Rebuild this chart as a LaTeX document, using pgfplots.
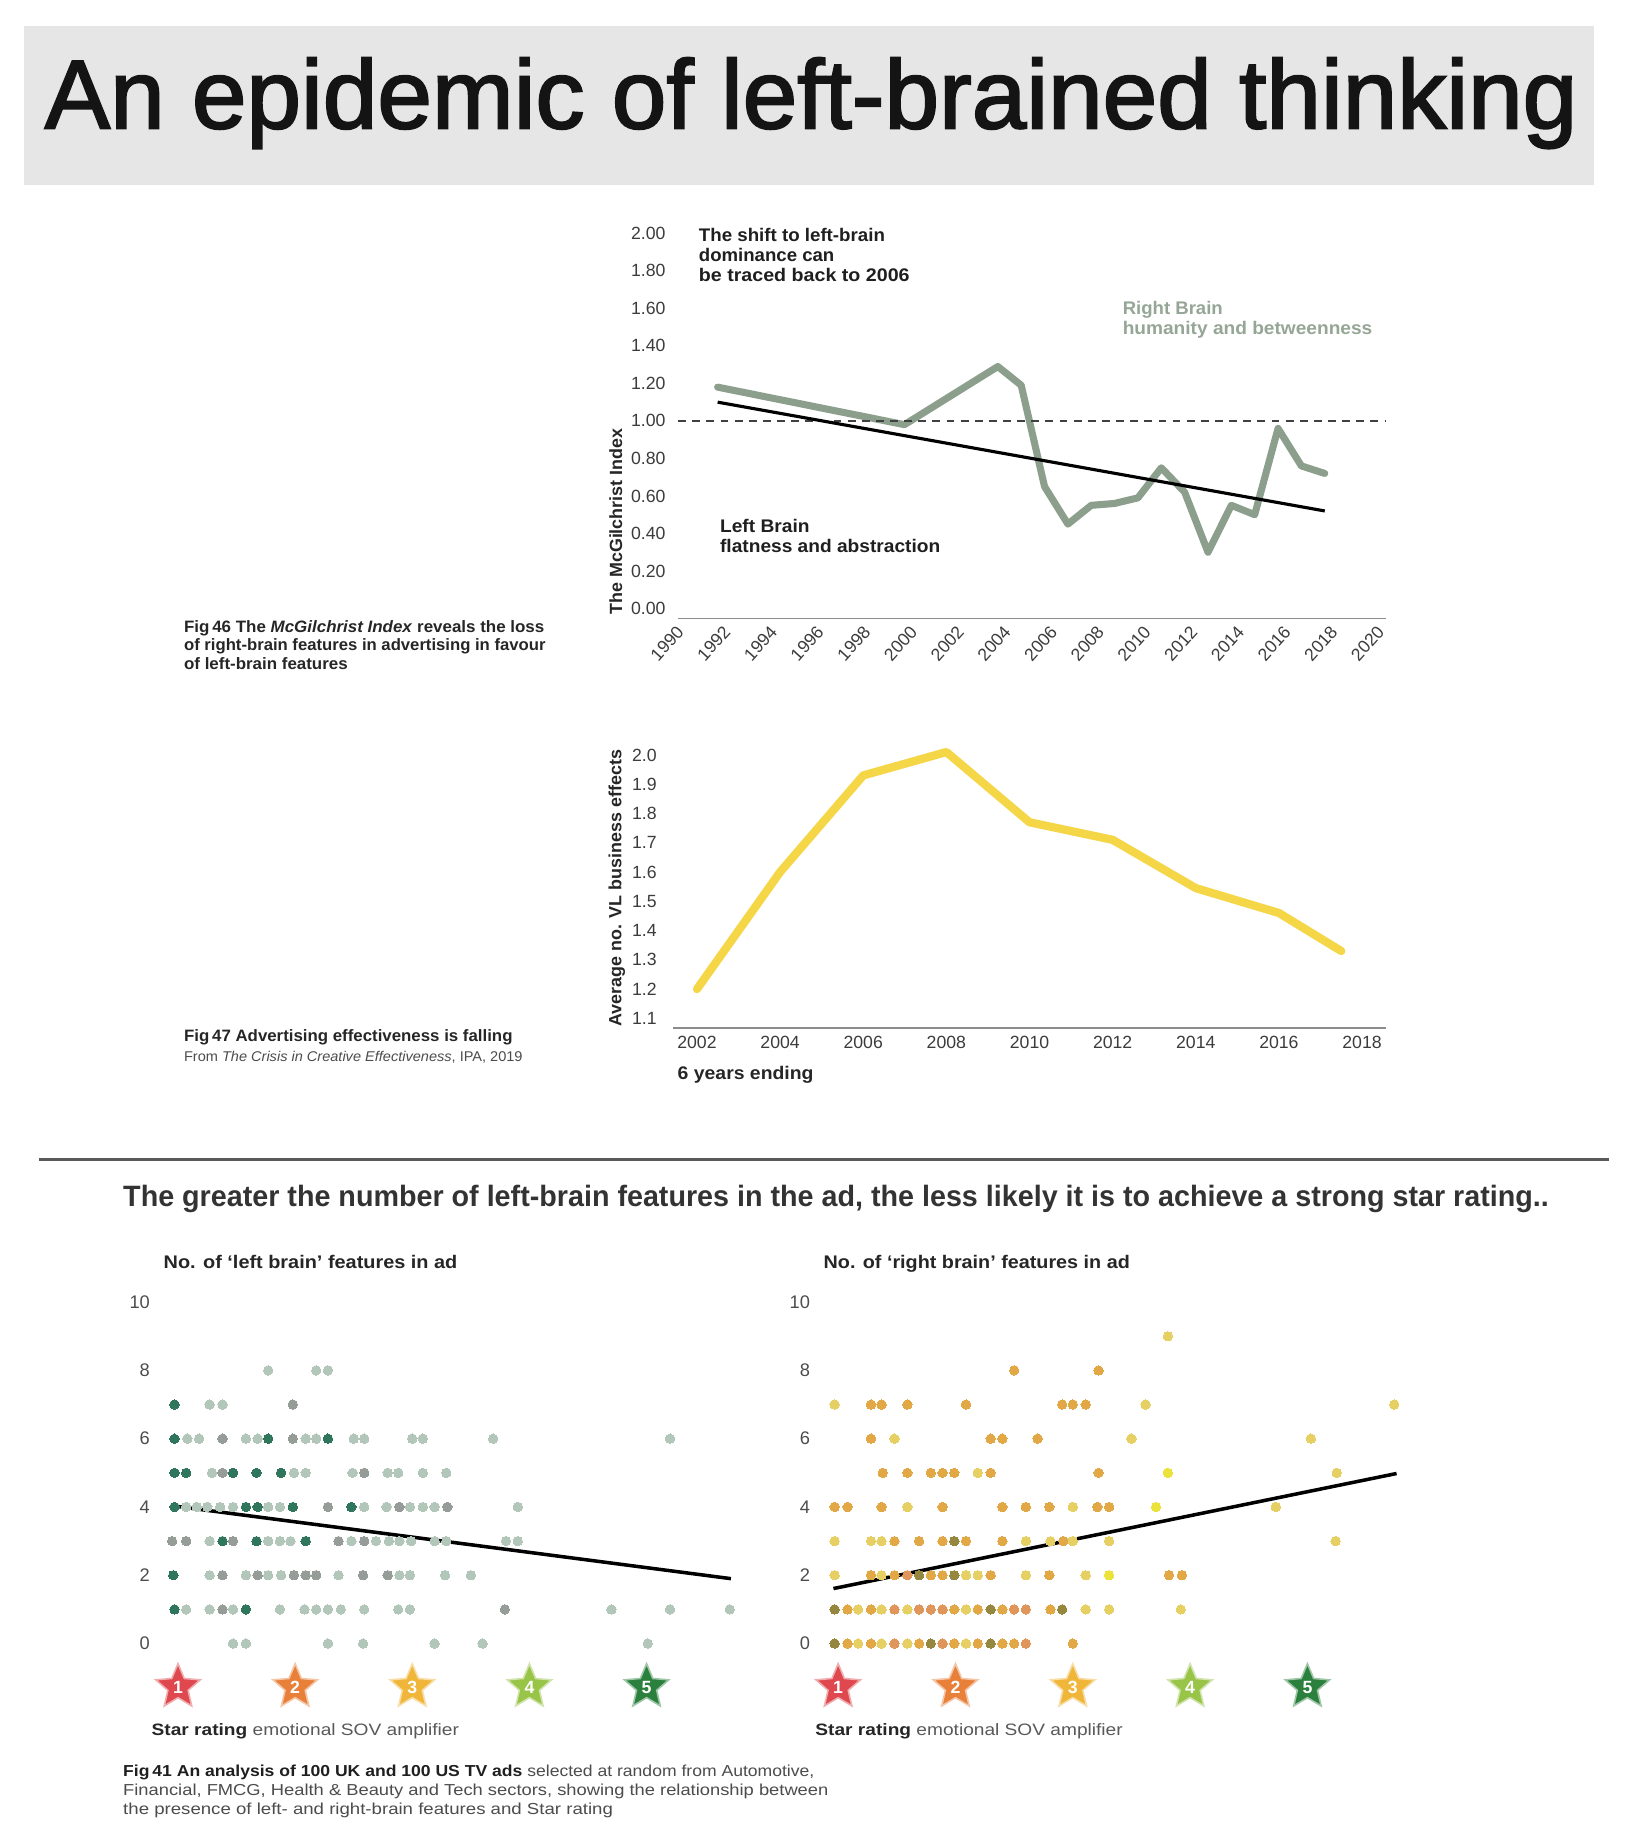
\documentclass[border=0pt]{standalone}
\usepackage{pgfplots}
\pgfplotsset{compat=1.18}
\usepackage{fontspec}
\setmainfont{Liberation Sans}
\newfontfamily\titlefont[FakeBold=2]{Liberation Sans}
\usetikzlibrary{shapes.geometric}
\newdimen\px \px=0.3pt
\newcommand\fs[1]{\fontsize{#1\px}{#1\px}\selectfont}
\newcommand{\T}[5][]{\node[anchor=base west, inner sep=0pt, #1] at (#2,#3) {\resizebox{#4\px}{\height}{#5}};}
\definecolor{titlebg}{RGB}{230,230,230}
\definecolor{sage}{RGB}{140,158,140}
\definecolor{sagetext}{RGB}{150,166,150}
\definecolor{ylw}{RGB}{245,214,70}
\definecolor{tickgray}{RGB}{60,60,60}
\definecolor{lgL}{RGB}{178,198,186}
\definecolor{lgG}{RGB}{150,156,152}
\definecolor{lgD}{RGB}{48,118,92}
\definecolor{rO}{RGB}{226,168,70}
\definecolor{rY}{RGB}{230,208,100}
\definecolor{rB}{RGB}{236,226,60}
\definecolor{rR}{RGB}{224,150,90}
\definecolor{rK}{RGB}{150,135,62}
\definecolor{s1}{RGB}{222,72,78}
\definecolor{s2}{RGB}{232,128,58}
\definecolor{s3}{RGB}{240,182,58}
\definecolor{s4}{RGB}{152,196,72}
\definecolor{s5}{RGB}{44,128,62}
\pgfplotsset{
  myaxis/.style={scale only axis, clip=false, anchor=south west,
    /pgf/number format/assume math mode=true, /pgf/number format/1000 sep={},
    tick label style={font=\fs{15}, text=tickgray},
    major tick length=0pt, tick style={draw=none}},
  dots/.style={only marks, mark=*, mark size=1.2pt, color=#1, mark options={draw=#1, fill=#1, line width=0pt}},
}
\tikzset{starnode/.style={star, star points=5, star point ratio=2.2, minimum size=11.9pt, inner sep=0pt, text=white, font=\fs{15}\bfseries, line width=0.4pt}}
\begin{document}
\begin{tikzpicture}[x=0.3pt, y=-0.3pt]
\fill[white] (0,0) rectangle (1383,1568);
\path[use as bounding box] (0,0) rectangle (1383,1568);
% title
\fill[titlebg] (20,22) rectangle (1354,157);
\node[anchor=base, inner sep=0pt] at (689,109) {\resizebox{1302\px}{\height}{\titlefont\fs{83}\color{black!92}An epidemic of left-brained thinking}};

% ---------- Fig 46 ----------
\coordinate (A1) at (569.9,525.3);
\begin{axis}[myaxis, at={(A1)}, width=182.2pt, height=100.53pt,
  xmin=1990, xmax=2020.62, ymin=-0.053, ymax=2.05,
  axis x line*=bottom, axis y line*=left,
  x axis line style={draw=none},
  y axis line style={draw=none},
  xtick={1990,1992,...,2020},
  ytick={0,0.2,0.4,0.6,0.8,1,1.2,1.4,1.6,1.8,2},
  yticklabels={0.00,0.20,0.40,0.60,0.80,1.00,1.20,1.40,1.60,1.80,2.00},
  xticklabel style={xshift=-1.0pt, yshift=-6.4pt, rotate=48, anchor=center, inner sep=0pt, font=\fs{15}},
  yticklabel style={anchor=east, inner sep=0pt, xshift=-1.2pt},
]
\draw[black!45, line width=0.45pt] (axis cs:1990.31,-0.053) -- (axis cs:2020.62,-0.053);
\addplot[sage, line width=1.8pt, line join=round, line cap=round] coordinates {
 (1992,1.18) (2000,0.98) (2004,1.29) (2005,1.19) (2006,0.65) (2007,0.45) (2008,0.55)
 (2009,0.56) (2010,0.59) (2011,0.75) (2012,0.62) (2013,0.30) (2014,0.55) (2015,0.50)
 (2016,0.96) (2017,0.76) (2018,0.72)};
\addplot[black!75, line width=0.5pt, dash pattern=on 2pt off 1.6pt] coordinates {(1990.31,1) (2020.62,1)};
\addplot[black, line width=0.8pt] coordinates {(1992,1.10) (2018,0.52)};
\end{axis}
\node[rotate=90, inner sep=0pt] at (523,443) {\resizebox{158\px}{\height}{\fs{15}\bfseries\color{black!85}The McGilchrist Index}};
\T{593}{205}{158}{\fs{15.5}\bfseries\color{black!88}The shift to left-brain}
\T{593}{222}{115}{\fs{15.5}\bfseries\color{black!88}dominance can}
\T{593}{239}{179}{\fs{15.5}\bfseries\color{black!88}be traced back to 2006}
\T{953}{267}{85}{\fs{15.5}\bfseries\color{sagetext}Right Brain}
\T{953}{284}{212}{\fs{15.5}\bfseries\color{sagetext}humanity and betweenness}
\T{611}{452}{76}{\fs{15.5}\bfseries\color{black!88}Left Brain}
\T{611}{469}{187}{\fs{15.5}\bfseries\color{black!88}flatness and abstraction}
\T{155.7}{537.4}{306}{\fs{14}\bfseries\color{black!85}Fig\,46 The \textit{McGilchrist Index} reveals the loss}
\T{155.7}{552.7}{307}{\fs{14}\bfseries\color{black!85}of right-brain features in advertising in favour}
\T{155.7}{568.3}{139}{\fs{14}\bfseries\color{black!85}of left-brain features}

% ---------- Fig 47 ----------
\coordinate (A2) at (571.7,873);
\begin{axis}[myaxis, at={(A2)}, width=181.56pt, height=73.26pt,
  xmin=2001.425, xmax=2018.565, ymin=1.0678, ymax=2.05,
  axis x line*=bottom, axis y line*=left,
  x axis line style={draw=black!45, line width=0.5pt},
  y axis line style={draw=none},
  xtick={2002,2004,...,2018},
  ytick={1.1,1.2,1.3,1.4,1.5,1.6,1.7,1.8,1.9,2.0},
  yticklabels={1.1,1.2,1.3,1.4,1.5,1.6,1.7,1.8,1.9,2.0},
  xticklabel style={anchor=north, inner sep=0pt, yshift=-2pt},
  yticklabel style={anchor=east, inner sep=0pt, xshift=-4pt},
]
\addplot[ylw, line width=2.1pt, line join=round, line cap=round] coordinates {
 (2002,1.20) (2004,1.60) (2006,1.93) (2008,2.01) (2010,1.77) (2012,1.71) (2014,1.545) (2016,1.46) (2017.5,1.33)};
\end{axis}
\node[rotate=90, inner sep=0pt] at (524,754.5) {\resizebox{235\px}{\height}{\fs{15}\bfseries\color{black!85}Average no. VL business effects}};
\T{575}{917}{115.4}{\fs{15.5}\bfseries\color{black!85}6 years ending}
\T{155.7}{885}{279}{\fs{14}\bfseries\color{black!85}Fig\,47 Advertising effectiveness is falling}
\T{155.7}{902}{287.5}{\fs{12}\color{black!70}From \textit{The Crisis in Creative Effectiveness}, IPA, 2019}

% separator and subtitle
\draw[line width=0.6pt, black!65] (33,985) -- (1367,985);
\T{104}{1025}{1211}{\fs{25}\bfseries\color{black!80}The greater the number of left-brain features in the ad, the less likely it is to achieve a strong star rating..}

% ---------- left scatter ----------
\coordinate (S1) at (131.3,1410.5);
\begin{axis}[myaxis, at={(S1)}, width=152.24pt, height=93.96pt,
  xmin=0.8, xmax=5.9, ymin=-0.5, ymax=10.3,
  axis x line=none, axis y line*=left, y axis line style={draw=none},
  xtick=\empty, ytick={0,2,4,6,8,10},
  yticklabel style={anchor=east, inner sep=0pt, xshift=-1pt, font=\fs{15.5}, text=black!70},
]
\addplot[dots=lgL] coordinates {
 (1.77,8) (2.18,8) (2.28,8)
 (1.27,7) (1.38,7)
 (1.08,6) (1.18,6) (1.58,6) (1.68,6) (2.09,6) (2.18,6) (2.50,6) (2.59,6) (3.00,6) (3.09,6) (3.69,6) (5.20,6)
 (1.29,5) (1.99,5) (2.09,5) (2.49,5) (2.79,5) (2.88,5) (3.09,5) (3.29,5)
 (1.07,4) (1.16,4) (1.25,4) (1.36,4) (1.47,4) (1.77,4) (1.87,4) (2.59,4) (2.78,4) (2.98,4) (3.09,4) (3.19,4) (3.90,4)
 (1.27,3) (1.77,3) (1.87,3) (1.96,3) (2.48,3) (2.69,3) (2.80,3) (2.89,3) (2.99,3) (3.19,3) (3.29,3) (3.80,3) (3.90,3)
 (1.27,2) (1.58,2) (1.77,2) (1.88,2) (2.37,2) (2.89,2) (2.98,2) (3.28,2) (3.50,2)
 (1.07,1) (1.27,1) (1.47,1) (1.87,1) (2.08,1) (2.18,1) (2.28,1) (2.39,1) (2.59,1) (2.88,1) (2.98,1) (4.70,1) (5.20,1) (5.71,1)
 (1.47,0) (1.58,0) (2.28,0) (2.58,0) (3.19,0) (3.60,0) (5.01,0)};
\addplot[dots=lgG] coordinates {
 (1.98,7) (1.38,6) (1.98,6) (1.38,5) (2.59,5) (2.28,4) (2.89,4) (3.30,4)
 (0.95,3) (1.07,3) (1.47,3) (2.37,3) (2.59,3)
 (1.38,2) (1.68,2) (1.99,2) (2.09,2) (2.18,2) (2.58,2) (2.79,2) (1.38,1) (3.79,1)};
\addplot[dots=lgD] coordinates {
 (0.97,7) (0.97,6) (1.77,6) (2.28,6) (0.97,5) (1.07,5) (1.47,5) (1.67,5) (1.88,5)
 (0.97,4) (1.58,4) (1.68,4) (1.98,4) (2.48,4) (1.38,3) (1.67,3) (2.09,3) (0.96,2) (0.97,1) (1.58,1)};
\addplot[black, line width=0.9pt] coordinates {(0.96,4.03) (5.72,1.90)};
\node[starnode, fill=s1, draw=s1!45!white] at (axis cs:1,-1.275) {1};
\node[starnode, fill=s2, draw=s2!45!white] at (axis cs:2,-1.275) {2};
\node[starnode, fill=s3, draw=s3!45!white] at (axis cs:3,-1.275) {3};
\node[starnode, fill=s4, draw=s4!45!white] at (axis cs:4,-1.275) {4};
\node[starnode, fill=s5, draw=s5!45!white] at (axis cs:5,-1.275) {5};
\end{axis}
\T{138.4}{1077.4}{249.4}{\fs{15.5}\bfseries\color{black!85}No. of ‘left brain’ features in ad}
\T{128.2}{1474}{261}{\fs{14}{\bfseries\color{black!85}Star rating} \color{black!65}emotional SOV amplifier}

% ---------- right scatter ----------
\coordinate (S2) at (692,1410.5);
\begin{axis}[myaxis, at={(S2)}, width=152.47pt, height=93.96pt,
  xmin=0.8, xmax=5.9, ymin=-0.5, ymax=10.3,
  axis x line=none, axis y line*=left, y axis line style={draw=none},
  xtick=\empty, ytick={0,2,4,6,8,10},
  yticklabel style={anchor=east, inner sep=0pt, xshift=-1pt, font=\fs{15.5}, text=black!70},
]
\addplot[dots=rO] coordinates {
 (2.50,8) (3.22,8)
 (1.28,7) (1.37,7) (1.59,7) (2.09,7) (2.91,7) (3.00,7) (3.11,7)
 (1.28,6) (2.30,6) (2.40,6) (2.70,6)
 (1.38,5) (1.59,5) (1.79,5) (1.89,5) (1.99,5) (2.30,5) (3.22,5)
 (0.97,4) (1.08,4) (1.37,4) (1.89,4) (2.40,4) (2.60,4) (2.80,4) (3.21,4) (3.31,4)
 (1.48,3) (1.69,3) (1.89,3) (2.09,3) (2.40,3) (2.92,3)
 (1.28,2) (1.48,2) (1.79,2) (1.89,2) (2.30,2) (2.80,2) (3.82,2) (3.93,2)
 (1.08,1) (1.28,1) (1.99,1) (2.19,1) (2.40,1) (2.81,1)
 (1.08,0) (1.28,0) (1.69,0) (1.99,0) (2.19,0) (2.40,0) (2.50,0) (3.00,0)};
\addplot[dots=rY] coordinates {
 (3.81,9) (0.97,7) (3.62,7) (5.74,7) (1.48,6) (3.50,6) (5.03,6) (2.19,5) (5.25,5)
 (1.59,4) (3.00,4) (4.73,4)
 (0.97,3) (1.28,3) (1.37,3) (2.60,3) (2.81,3) (3.00,3) (3.31,3) (5.24,3)
 (0.97,2) (1.37,2) (2.09,2) (2.19,2) (2.60,2) (3.11,2)
 (1.17,1) (1.37,1) (1.59,1) (2.09,1) (3.11,1) (3.31,1) (3.92,1)
 (1.17,0) (1.37,0) (1.59,0) (2.09,0)};
\addplot[dots=rB] coordinates {(3.81,5) (3.71,4) (3.31,2)};
\addplot[dots=rR] coordinates {
 (1.59,2) (1.48,1) (1.69,1) (1.79,1) (1.89,1) (2.50,1) (2.60,1) (1.48,0) (1.89,0) (2.60,0)};
\addplot[dots=rK] coordinates {
 (1.99,3) (1.69,2) (1.99,2) (0.97,1) (2.30,1) (2.91,1) (0.97,0) (1.79,0) (2.30,0)};
\addplot[black, line width=0.9pt] coordinates {(0.96,1.61) (5.76,4.98)};
\node[starnode, fill=s1, draw=s1!45!white] at (axis cs:1,-1.275) {1};
\node[starnode, fill=s2, draw=s2!45!white] at (axis cs:2,-1.275) {2};
\node[starnode, fill=s3, draw=s3!45!white] at (axis cs:3,-1.275) {3};
\node[starnode, fill=s4, draw=s4!45!white] at (axis cs:4,-1.275) {4};
\node[starnode, fill=s5, draw=s5!45!white] at (axis cs:5,-1.275) {5};
\end{axis}
\T{699}{1077.4}{260}{\fs{15.5}\bfseries\color{black!85}No. of ‘right brain’ features in ad}
\T{692}{1474}{261}{\fs{14}{\bfseries\color{black!85}Star rating} \color{black!65}emotional SOV amplifier}

% ---------- Fig 41 caption ----------
\T{104}{1509}{587}{\fs{13.5}{\bfseries\color{black!88}Fig\,41 An analysis of 100 UK and 100 US TV ads} \color{black!70}selected at random from Automotive,}
\T{104}{1525}{599}{\fs{13.5}\color{black!70}Financial, FMCG, Health \& Beauty and Tech sectors, showing the relationship between}
\T{104}{1541}{416}{\fs{13.5}\color{black!70}the presence of left- and right-brain features and Star rating}
\end{tikzpicture}
\end{document}
